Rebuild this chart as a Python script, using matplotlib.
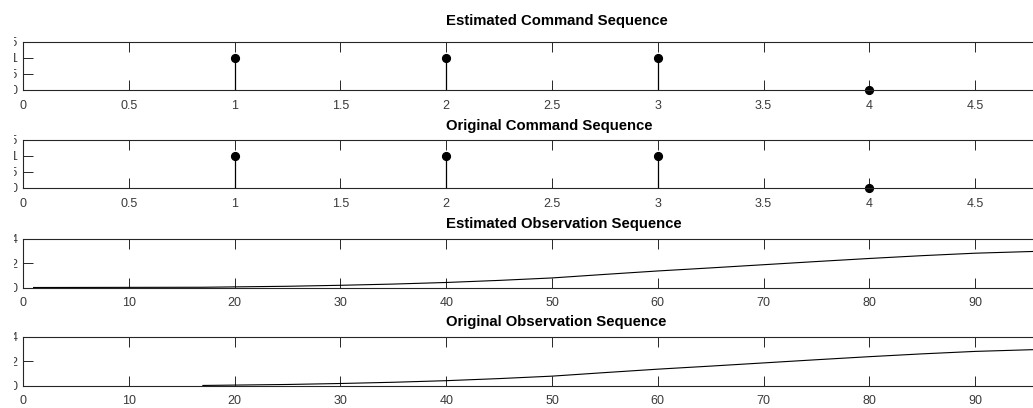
import matplotlib
matplotlib.use('Agg')
import matplotlib.pyplot as plt
from matplotlib.patches import Rectangle

# command sequences (stem plots)
cmd_x = [1, 2, 3, 4]
cmd_est = [1, 1, 1, 0]
cmd_orig = [1, 1, 1, 0]

# observation sequences
obs_x_est = [1, 17, 20, 25, 30, 35, 40, 45, 50, 55, 60, 65, 70, 75, 80, 85, 90, 95, 100]
obs_est = [0, 0.02, 0.05, 0.1, 0.18, 0.28, 0.41, 0.58, 0.78, 1.07, 1.35, 1.6,
           1.86, 2.12, 2.37, 2.6, 2.8, 2.93, 3.05]
obs_x_orig = [17, 20, 25, 30, 35, 40, 45, 50, 55, 60, 65, 70, 75, 80, 85, 90, 95, 100]
obs_orig = [0.02, 0.05, 0.1, 0.18, 0.28, 0.41, 0.58, 0.78, 1.07, 1.35, 1.6,
            1.86, 2.12, 2.37, 2.6, 2.8, 2.93, 3.05]

titles = ['Estimated Command Sequence', 'Original Command Sequence',
          'Estimated Observation Sequence', 'Original Observation Sequence']

cmd_ticks = [0, 0.5, 1, 1.5, 2, 2.5, 3, 3.5, 4, 4.5]
cmd_ticklabels = ['0', '0.5', '1', '1.5', '2', '2.5', '3', '3.5', '4', '4.5']
obs_ticks = [0, 10, 20, 30, 40, 50, 60, 70, 80, 90]

AX_COL = '#262626'
W, H = 1033, 408
AX_L, AX_W = 23, 1058   # pixels; the axes run past the right edge

plt.rcParams['font.family'] = ['Liberation Sans', 'DejaVu Sans']

fig = plt.figure(figsize=(W / 100, H / 100), dpi=100)

# axes boxes in pixels: (top, bottom)
boxes = [(42, 90), (140, 188), (238.5, 287.5), (336.7, 385.7)]
axs = []
for top, bot in boxes:
    ax = fig.add_axes([AX_L / W, 1 - bot / H, AX_W / W, (bot - top) / H])
    axs.append(ax)


def style(ax, title, tpad):
    for s in ax.spines.values():
        s.set_color(AX_COL)
        s.set_linewidth(0.8)
    ax.tick_params(direction='in', length=7.2, width=0.7, color=AX_COL,
                   top=True, right=True, labelsize=9, labelcolor='#3a3a3a')
    ax.tick_params(axis='x', pad=7)
    ax.tick_params(axis='y', pad=4)
    t = ax.set_title(title, fontsize=10.7, fontweight='bold', color='black', pad=tpad)
    # titles in the reference all start at the same x
    t.set_ha('left')
    t.set_x((446 - AX_L) / AX_W)


# stem plots
for ax, vals in [(axs[0], cmd_est), (axs[1], cmd_orig)]:
    ml, sl, bl = ax.stem(cmd_x, vals, basefmt=' ')
    plt.setp(sl, color='black', linewidth=0.9)
    plt.setp(ml, color='black', markersize=5.6)
    ml.set_clip_on(False)
    ax.set_xlim(0, 5)
    ax.set_ylim(0, 1.5)
    ax.set_xticks(cmd_ticks)
    ax.set_xticklabels(cmd_ticklabels)
    ax.set_yticks([0, 0.5, 1, 1.5])
    ax.set_yticklabels(['0', '0.5', '1', '1.5'])

axs[2].plot(obs_x_est, obs_est, color='black', linewidth=0.8)
axs[3].plot(obs_x_orig, obs_orig, color='black', linewidth=0.8)
for ax in axs[2:]:
    ax.set_xlim(0, 100)
    ax.set_ylim(0, 4)
    ax.set_xticks(obs_ticks)
    ax.set_yticks([0, 2, 4])

style(axs[0], titles[0], 12)
for ax, t in zip(axs[1:], titles[1:]):
    style(ax, t, 7.5)

# the reference is cropped just left of the y tick labels
fig.patches.append(Rectangle((0, 0), 14 / W, 1, transform=fig.transFigure,
                             facecolor='white', edgecolor='none', zorder=10))

fig.savefig('out.png', dpi=100)
